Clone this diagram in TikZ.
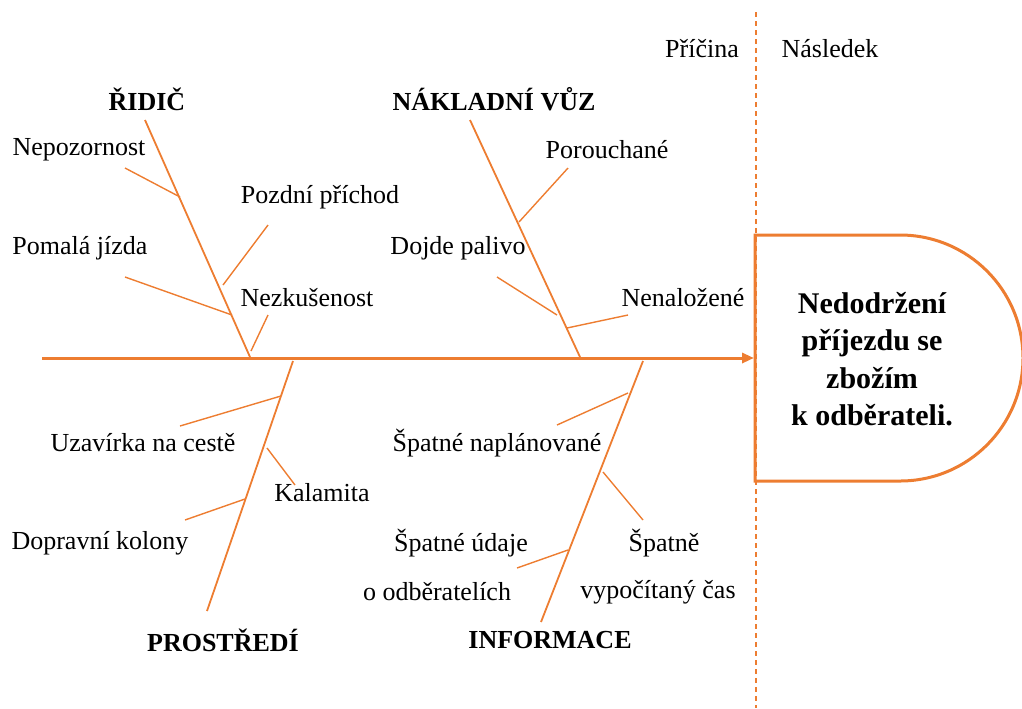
\documentclass[tikz,border=0pt]{standalone}
\usepackage{fontspec}
\setmainfont{Liberation Serif}
\usetikzlibrary{arrows.meta}
\definecolor{fishorange}{HTML}{ED7D31}

\begin{document}
\begin{tikzpicture}[x=0.5pt,y=-0.5pt]
\tikzstyle{every node}+=[inner sep=0pt, font=\fontsize{13}{15}\selectfont]
\tikzstyle{bone}=[draw=fishorange, line width=0.9pt]
\tikzstyle{twig}=[draw=fishorange, line width=0.7pt]
\tikzstyle{spine}=[draw=fishorange, line width=1.5pt, -{Triangle[length=6pt,width=5pt]}]
\tikzstyle{head}=[font=\fontsize{13}{15}\selectfont\bfseries]
\useasboundingbox (0,0) rectangle (1022,708);
% cause / effect divider
\coordinate (divtop) at (756,12);
\coordinate (divbot) at (756,708);
\draw [fishorange, line width=0.6pt, dash pattern=on 2.5pt off 2pt] (divtop) -- (divbot);
\node (cause) at (702,49) {Příčina};
\node (effect) at (830,49) {Následek};
% effect head
\draw [fishorange, line width=1.5pt] (755,235) -- (900,235) arc[start angle=-90, end angle=90, radius=123] -- (755,481) -- cycle;
\node [align=center, font=\fontsize{15}{18.7}\selectfont\bfseries] (problem) at (872,359)
  {Nedodržení\\příjezdu se\\zbožím\\k odběrateli.};
% spine
\coordinate (tail) at (42,358);
\coordinate (nose) at (754,358);
\draw [spine] (tail) -- (nose);
% ridic
\node [head] (ridic) at (147,99) {ŘIDIČ};
\coordinate (r0) at (145,120);
\coordinate (r1) at (250,357);
\draw [bone] (r0) -- (r1);
\node (nepoz) at (79,150) {Nepozornost};
\coordinate (nepoza) at (125,168);
\coordinate (nepozb) at (180,197);
\draw [twig] (nepoza) -- (nepozb);
\node (pozdni) at (320,197) {Pozdní příchod};
\coordinate (pozdnia) at (268,225);
\coordinate (pozdnib) at (223,285);
\draw [twig] (pozdnia) -- (pozdnib);
\node (pomala) at (80,248) {Pomalá jízda};
\coordinate (pomalaa) at (125,277);
\coordinate (pomalab) at (232,315);
\draw [twig] (pomalaa) -- (pomalab);
\node (nezk) at (307,298) {Nezkušenost};
\coordinate (nezka) at (268,315);
\coordinate (nezkb) at (251,351);
\draw [twig] (nezka) -- (nezkb);
% nakladni vuz
\node [head] (vuz) at (494,99) {NÁKLADNÍ VŮZ};
\coordinate (v0) at (470,120);
\coordinate (v1) at (580,357);
\draw [bone] (v0) -- (v1);
\node (porouch) at (607,150) {Porouchané};
\coordinate (poroucha) at (568,168);
\coordinate (porouchb) at (519,222);
\draw [twig] (poroucha) -- (porouchb);
\node (palivo) at (458,248) {Dojde palivo};
\coordinate (palivoa) at (497,277);
\coordinate (palivob) at (557,315);
\draw [twig] (palivoa) -- (palivob);
\node (nenal) at (683,298) {Nenaložené};
\coordinate (nenala) at (628,315);
\coordinate (nenalb) at (567,328);
\draw [twig] (nenala) -- (nenalb);
% prostredi
\node [head] (prostr) at (223,640) {PROSTŘEDÍ};
\coordinate (p0) at (293,361);
\coordinate (p1) at (207,611);
\draw [bone] (p0) -- (p1);
\node (uzav) at (143,443) {Uzavírka na cestě};
\coordinate (uzava) at (180,426);
\coordinate (uzavb) at (281,396);
\draw [twig] (uzava) -- (uzavb);
\node (kalam) at (322,493) {Kalamita};
\coordinate (kalama) at (295,485);
\coordinate (kalamb) at (267,448);
\draw [twig] (kalama) -- (kalamb);
\node (kolony) at (100,543) {Dopravní kolony};
\coordinate (kolonya) at (185,520);
\coordinate (kolonyb) at (245,499);
\draw [twig] (kolonya) -- (kolonyb);
% informace
\node [head] (info) at (550,640) {INFORMACE};
\coordinate (i0) at (643,361);
\coordinate (i1) at (541,622);
\draw [bone] (i0) -- (i1);
\node (naplan) at (497,443) {Špatné naplánované};
\coordinate (naplana) at (557,425);
\coordinate (naplanb) at (628,393);
\draw [twig] (naplana) -- (naplanb);
\node (udaje) at (461,543) {Špatné údaje};
\node (odber) at (437,592) {o odběratelích};
\coordinate (udajea) at (517,568);
\coordinate (udajeb) at (568,550);
\draw [twig] (udajea) -- (udajeb);
\node (spatne) at (664,543) {Špatně};
\node (vypoc) at (658,592) {vypočítaný čas};
\coordinate (vypoca) at (643,520);
\coordinate (vypocb) at (603,472);
\draw [twig] (vypoca) -- (vypocb);
\end{tikzpicture}
\end{document}
